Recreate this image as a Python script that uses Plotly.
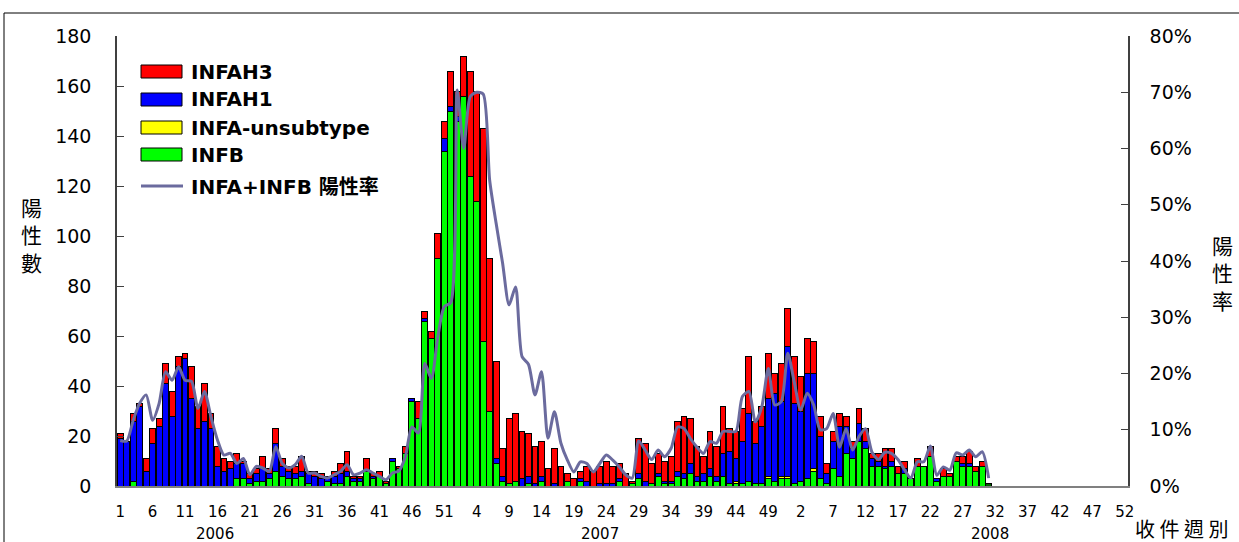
import plotly.graph_objects as go

# ---------------- data ----------------
years = ["2006", "2007", "2008"]
weeks_per_year = 52

# 2006 w1..w52, 2007 w1..w52, 2008 w1..w31
infb = [0,0,2,0,0,0,0,0,0,0, 0,0,0,0,0,0,0,0,3,3, 1,2,2,3,6,4,3,3,4,1,
        0,0,2,1,1,4,2,2,6,3, 4,1,10,7,13,34,27,66,59,91, 134,150,
        146,156,124,114,58,30,9,2,1,2, 0,1,0,2,0,0,0,2,0,2, 0,0,0,0,0,2,0,1,3,0,
        1,4,1,1,4,3,5,2,2,4, 2,4,1,1,1,2,1,1,3,2, 3,3,
        1,2,3,6,3,1,7,4,13,11, 18,15,8,8,7,8,5,5,3,8, 8,12,2,4,4,10,8,8,6,8, 0]
infa_unsub = [0]*52 + \
        [0,0,0,0,0,0,0,0,0,0, 0,0,0,0,0,0,0,0,0,0, 0,0,0,0,0,0,0,0,0,0,
         0,0,0,0,0,0,0,0,0,0, 0,0,0,1,0,0,0,0,1,0, 1,1] + \
        [0,0,0,1,0,0,0,0,0,0, 0,0,0,0,0,0,0,0,0,0, 0,0,0,0,0,0,0,0,0,0, 0]
infah1 = [19,18,24,32,6,17,24,41,28,48, 51,35,23,26,23,8,6,7,6,6, 2,3,5,2,11,4,3,2,2,4,
          4,3,2,3,4,2,1,1,0,1, 0,0,1,0,0,1,0,1,0,0, 5,2,
          2,0,0,0,0,0,2,2,0,0, 3,3,1,2,0,1,0,0,0,1, 2,0,1,1,1,1,0,0,2,2,
          0,1,1,1,2,2,4,2,3,3, 2,9,13,9,17,27,16,23,31,35, 30,52,
          32,28,42,38,17,4,11,20,11,4, 7,3,3,2,1,2,0,2,0,0, 0,0,1,0,0,0,1,1,0,0, 0]
infah3 = [2,0,3,1,5,6,3,8,10,4, 2,13,9,15,6,8,5,3,4,1, 2,2,5,2,6,3,2,3,6,1,
          2,2,0,2,4,8,1,1,5,1, 2,1,0,1,3,0,7,3,3,10, 7,14,
          10,16,42,44,85,61,39,11,26,27, 19,17,15,14,7,14,8,3,3,3, 6,6,7,9,7,6,5,1,14,15,
          8,8,8,10,20,23,18,12,7,15, 12,19,9,11,13,23,9,8,18,8, 15,15,
          19,14,14,13,8,4,4,5,4,3, 6,5,2,3,7,5,3,3,0,3, 0,4,0,3,1,2,3,5,2,2, 0]
other_dg = [0]*52 + [0]*52 + [0]*30 + [1]
rate = [8.1,8.0,11.7,14.7,16.2,11.7,14.7,20.3,18.8,21.2, 18.8,18.6,13.8,16.8,12.3,8.2,5.5,5.8,4.0,4.9,
        2.0,3.5,3.2,2.6,7.0,4.0,3.2,3.8,5.3,2.3, 2.3,1.7,1.4,2.0,2.6,3.8,2.0,2.3,2.9,2.3,
        1.7,1.1,2.3,2.7,5.2,10.5,9.4,21.8,19.1,26.5, 31.9,32.6,
        70.4,60.0,69.2,70.0,69.7,54.4,46.7,39.6,32.2,35.4, 23.0,21.6,16.2,20.3,8.5,13.2,7.6,4.6,2.5,4.3,
        4.0,2.5,4.0,5.5,4.6,3.4,2.0,1.4,8.0,6.4, 4.7,6.4,5.2,6.7,10.5,10.2,8.4,6.9,5.8,7.9,
        7.6,9.7,9.7,9.7,15.9,16.8,11.4,14.1,20.9,14.4, 15.0,23.6,
        18.5,13.5,16.5,14.4,10.0,10.2,12.9,6.9,10.2,6.4, 8.8,10.2,6.0,4.7,6.0,5.8,4.7,2.9,1.4,4.3,
        4.3,7.1,1.9,3.4,2.8,5.9,5.5,6.4,5.2,6.1, 1.4]

tick_labels = [[1,6,11,16,21,26,31,36,41,46,51],
               [4,9,14,19,24,29,34,39,44,49],
               [2,7,12,17,22,27,32,37,42,47,52]]

# ---------------- helpers ----------------
W, H = 1239, 542
L, R, T, B = 117, 1128, 36, 486
def px(x):
    return (x - L) / (R - L)
def py(y):
    return (B - y) / (B - T)

n_total = weeks_per_year * len(years)
xs = list(range(len(infb)))
def nz(v):
    return [None if a == 0 else a for a in v]

tickvals, ticktext = [], []
for yi, labs in enumerate(tick_labels):
    for w in labs:
        tickvals.append(yi * weeks_per_year + w - 1)
        ticktext.append(str(w))

outline = dict(color="black", width=1)
fig = go.Figure()
fig.add_trace(go.Bar(x=xs, y=nz(other_dg), marker=dict(color="#006400", line=outline),
                     name="other", showlegend=False))
fig.add_trace(go.Bar(x=xs, y=nz(infb), marker=dict(color="#00FF00", line=outline), name="INFB"))
fig.add_trace(go.Bar(x=xs, y=nz(infa_unsub), marker=dict(color="#FFFF00", line=outline), name="INFA-unsubtype"))
fig.add_trace(go.Bar(x=xs, y=nz(infah1), marker=dict(color="#0000FF", line=outline), name="INFAH1"))
fig.add_trace(go.Bar(x=xs, y=nz(infah3), marker=dict(color="#FF0000", line=outline), name="INFAH3"))
fig.add_trace(go.Scatter(x=xs, y=rate, yaxis="y2", mode="lines", name="INFA+INFB 陽性率",
                         line=dict(color="#6B6B9E", width=3, shape="spline", smoothing=0.7)))

num_font = dict(family="DejaVu Sans", size=19, color="black")
fig.update_layout(
    width=W, height=H, barmode="stack", bargap=0.1,
    margin=dict(l=L, r=W - R, t=T, b=H - B),
    paper_bgcolor="white", plot_bgcolor="white",
    showlegend=False,
    xaxis=dict(range=[-0.5, n_total - 0.5], tickvals=tickvals, ticktext=ticktext,
               showline=True, linecolor="#808080", linewidth=2, ticks="",
               showgrid=False, zeroline=False,
               tickfont=dict(family="DejaVu Sans", size=15, color="black"),
               ticklabelstandoff=11),
    yaxis=dict(range=[0, 180], dtick=20, ticks="inside", ticklen=7, tickcolor="#404040",
               showline=True, linecolor="#404040", linewidth=1.5, showgrid=False,
               zeroline=False, tickfont=num_font, ticklabelstandoff=20),
    yaxis2=dict(range=[0, 80], dtick=10, ticksuffix="%", overlaying="y", side="right",
                ticks="inside", ticklen=7, tickcolor="#404040", showline=True,
                linecolor="#404040", linewidth=1.5, showgrid=False, zeroline=False,
                tickfont=num_font, ticklabelstandoff=16),
)

shapes = []
annotations = []
# outer frame
shapes.append(dict(type="rect", xref="paper", yref="paper", x0=px(4), x1=px(1250),
                   y0=py(548), y1=py(13), line=dict(color="black", width=1), layer="below"))

# manual legend
leg_font = dict(family="DejaVu Sans, Noto Sans CJK TC", size=20, color="black")
leg_items = [("INFAH3", "#FF0000", 71.5), ("INFAH1", "#0000FF", 99.5),
             ("INFA-unsubtype", "#FFFF00", 127.5), ("INFB", "#00FF00", 154.5)]
for name, col, yc in leg_items:
    shapes.append(dict(type="rect", xref="paper", yref="paper", x0=px(141), x1=px(182),
                       y0=py(yc + 6.5), y1=py(yc - 6.5), fillcolor=col,
                       line=dict(color="black", width=1)))
    annotations.append(dict(text="<b>%s</b>" % name, xref="paper", yref="paper",
                            x=px(189), y=py(yc), xanchor="left", yanchor="middle",
                            showarrow=False, font=leg_font))
shapes.append(dict(type="line", xref="paper", yref="paper", x0=px(141), x1=px(183),
                   y0=py(186), y1=py(186), line=dict(color="#6B6B9E", width=3)))
annotations.append(dict(text="<b>INFA+INFB 陽性率</b>", xref="paper", yref="paper",
                        x=px(189), y=py(187), xanchor="left", yanchor="middle",
                        showarrow=False, font=leg_font))

# year labels
year_x = [215, 600, 990]
for yr, xx in zip(years, year_x):
    annotations.append(dict(text=yr, xref="paper", yref="paper", x=px(xx), y=py(534),
                            xanchor="center", yanchor="middle", showarrow=False,
                            font=dict(family="DejaVu Sans", size=15, color="black")))

cjk = dict(family="Noto Sans CJK TC", size=21, color="black")
annotations.append(dict(text="陽<br>性<br>數", xref="paper", yref="paper", x=px(31), y=py(235),
                        xanchor="center", yanchor="middle", showarrow=False, font=cjk))
annotations.append(dict(text="陽<br>性<br>率", xref="paper", yref="paper", x=px(1222), y=py(272),
                        xanchor="center", yanchor="middle", showarrow=False, font=cjk))
annotations.append(dict(text="收 件 週 別", xref="paper", yref="paper", x=px(1181), y=py(528),
                        xanchor="center", yanchor="middle", showarrow=False,
                        font=dict(family="Noto Sans CJK TC", size=20, color="black")))

fig.update_layout(shapes=shapes, annotations=annotations)
fig.write_html("out.html", config={"displayModeBar": False},
               post_script="document.body.style.margin='0px';document.body.style.overflow='hidden';")
